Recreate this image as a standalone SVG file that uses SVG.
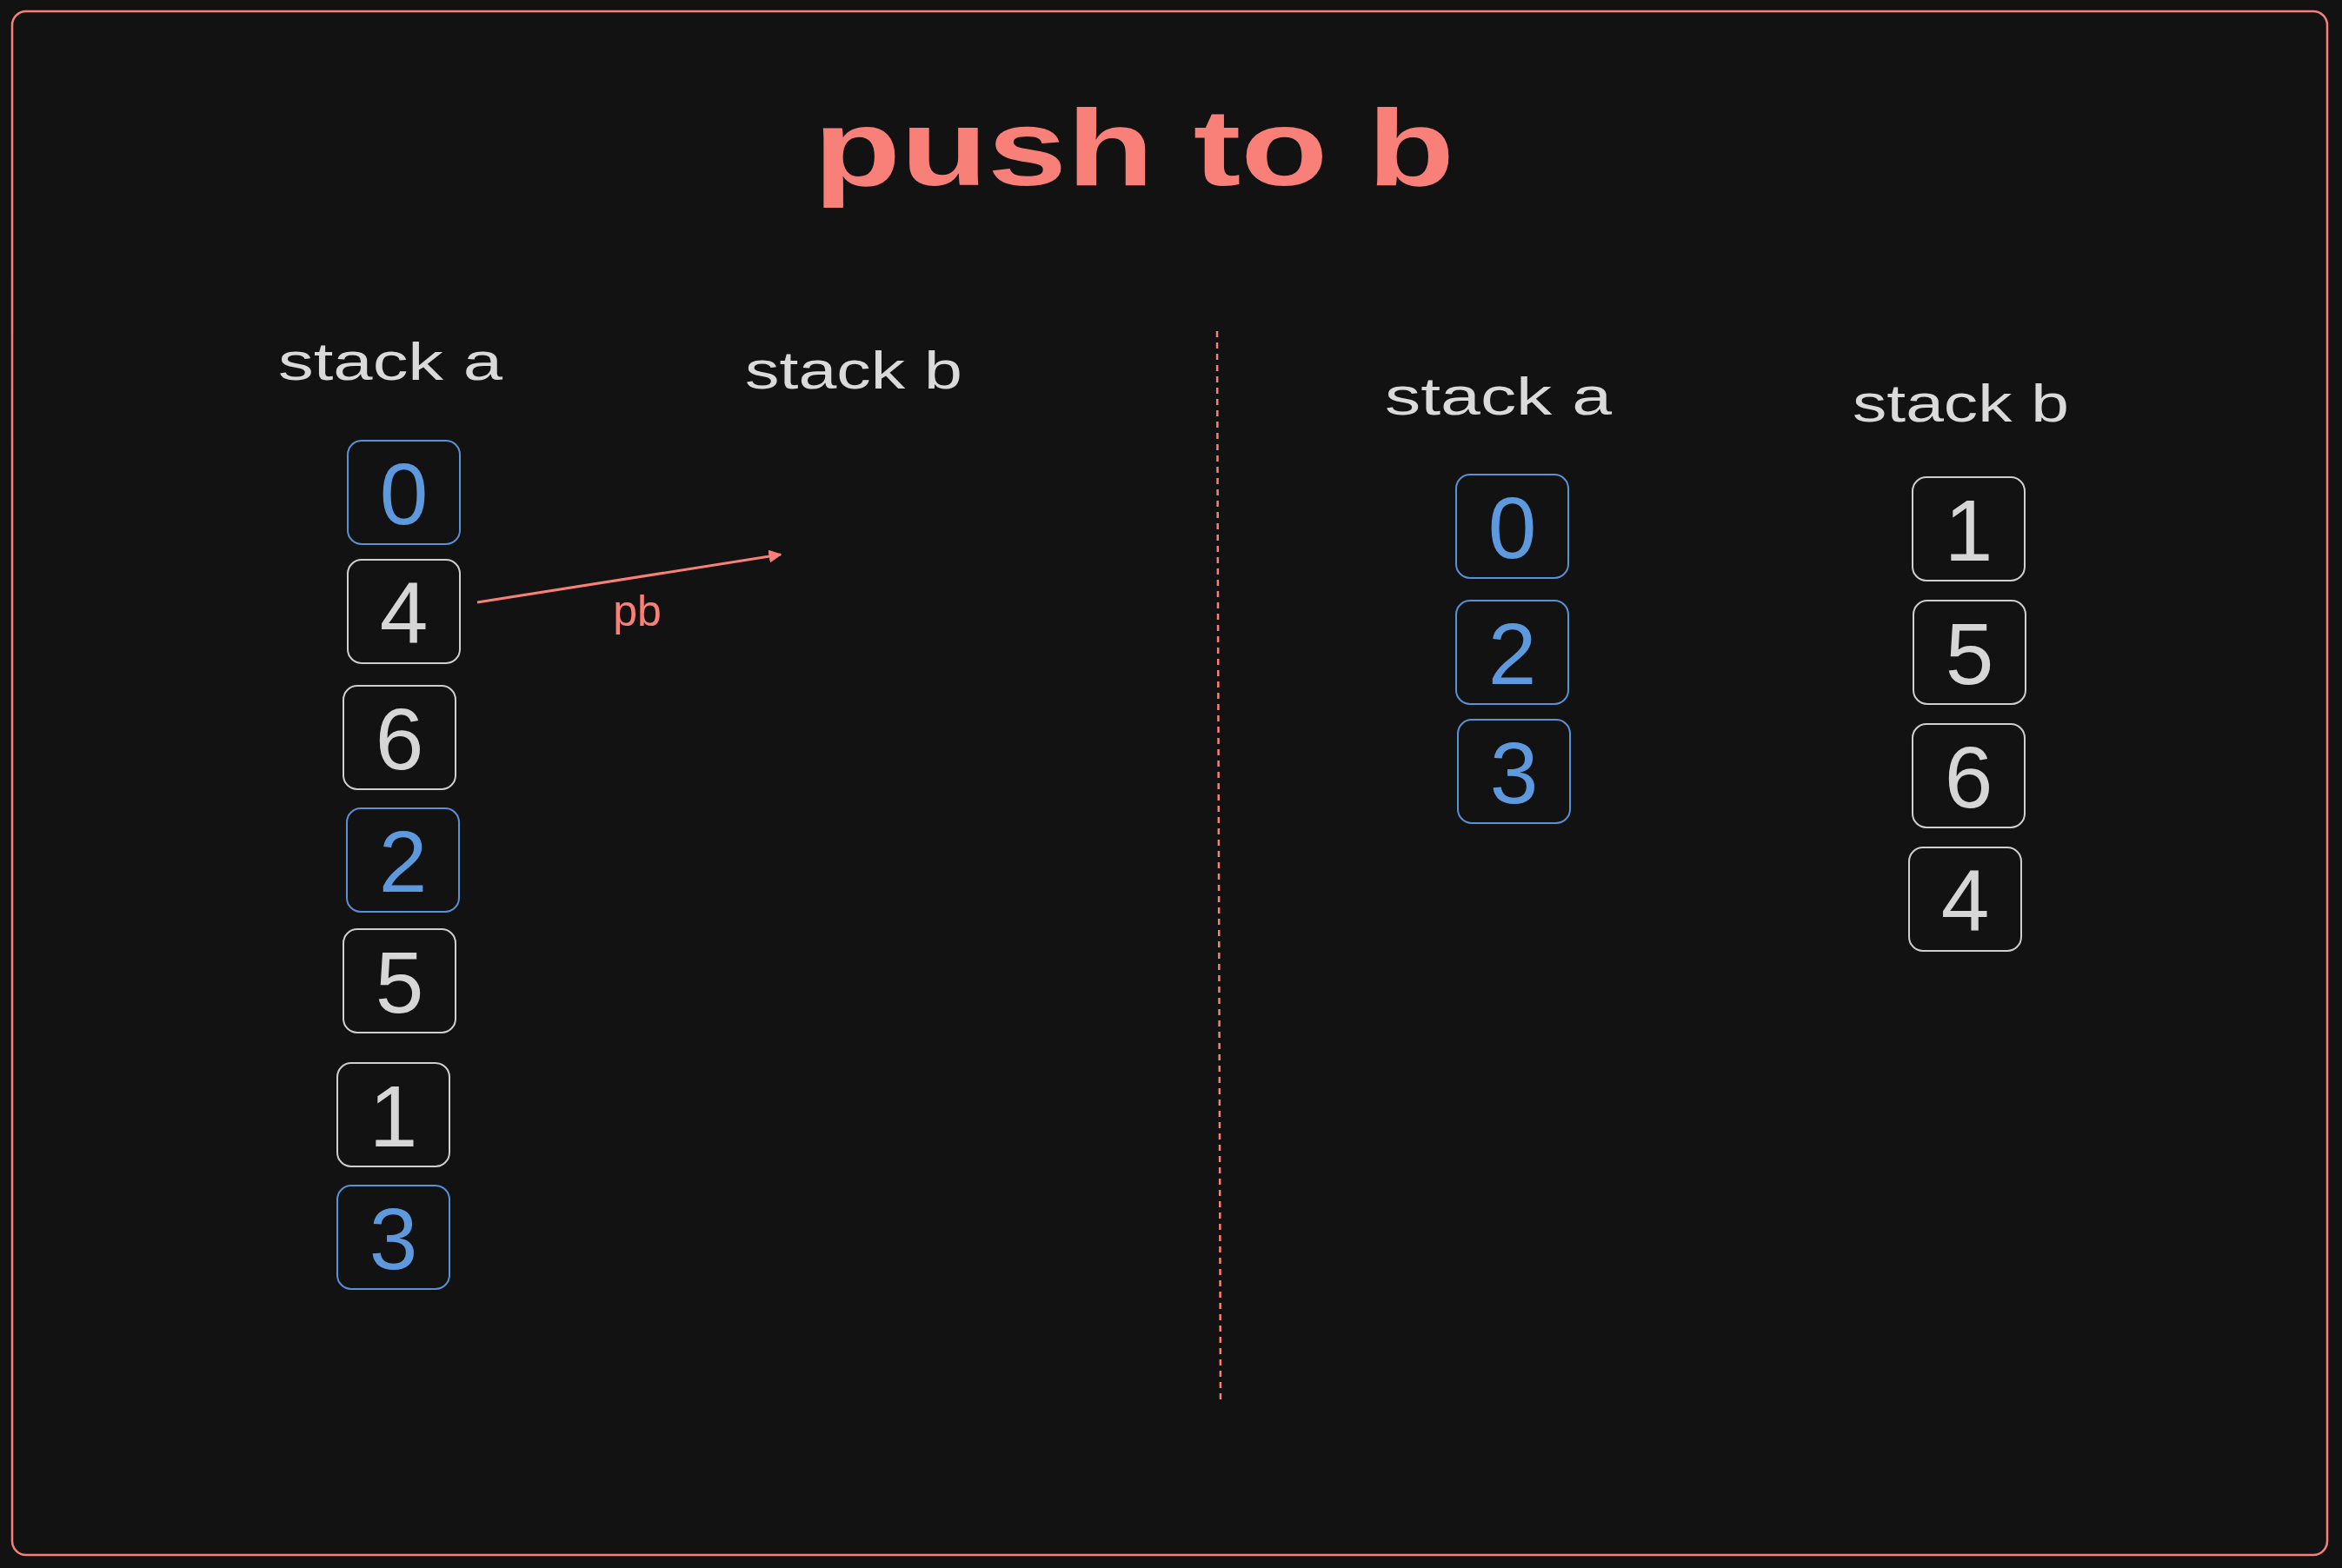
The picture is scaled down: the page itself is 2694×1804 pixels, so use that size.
<svg xmlns="http://www.w3.org/2000/svg" width="2694" height="1804" viewBox="0 0 2694 1804">
<style>
.bg{fill:#121212}
.frame{fill:none;stroke:#f98079;stroke-width:2.5}
.title{font-family:"Liberation Sans",Arial,sans-serif;font-size:124px;font-weight:700;fill:#f98079}
.lbl{font-family:"Liberation Sans",Arial,sans-serif;font-size:62px;fill:#dadada}
.box{fill:#121212;stroke-width:2;rx:16px;ry:16px}
.bw{stroke:#cfcfcf}
.bb{stroke:#5a90d4}
.num{font-family:"Liberation Sans",Arial,sans-serif;font-size:100px;text-anchor:middle}
.nw{fill:#d6d6d6}
.nb{fill:#5e98dd}
.conn{stroke:#f98079;stroke-width:3;fill:none}
.dash{stroke:#f98079;stroke-width:2.5;fill:none;stroke-dasharray:7 6}
.edgelbl{font-family:"Liberation Sans",Arial,sans-serif;font-size:50px;fill:#f98079;text-anchor:middle}
</style>
<defs>
<marker id="ah" viewBox="0 0 10 10" refX="9" refY="5" markerWidth="5" markerHeight="5" orient="auto" markerUnits="strokeWidth">
<path d="M0,0 L10,5 L0,10 z" fill="#f98079"/>
</marker>
</defs>
<rect class="bg" x="0" y="0" width="2694" height="1804"/>
<rect class="frame" x="14" y="13" width="2663" height="1776" rx="16" ry="16"/>
<text class="title" x="936" y="213" textLength="737" lengthAdjust="spacingAndGlyphs">push to b</text>

<g id="labels">
<text class="lbl" x="320" y="437" textLength="258" lengthAdjust="spacingAndGlyphs">stack a</text>
<text class="lbl" x="857" y="447" textLength="250" lengthAdjust="spacingAndGlyphs">stack b</text>
<text class="lbl" x="1593" y="477" textLength="261" lengthAdjust="spacingAndGlyphs">stack a</text>
<text class="lbl" x="2131" y="485" textLength="249" lengthAdjust="spacingAndGlyphs">stack b</text>
</g>

<g id="divider">
<path class="dash" d="M1400,381 L1404,1612"/>
</g>

<g id="left-a0"><rect class="box bb" x="400" y="507" width="129" height="119"/><text class="num nb" x="464.5" y="602.5">0</text></g>
<g id="left-a4"><rect class="box bw" x="400" y="644" width="129" height="119"/><text class="num nw" x="464.5" y="739.5">4</text></g>
<g id="left-a6"><rect class="box bw" x="395" y="789" width="129" height="119"/><text class="num nw" x="459.5" y="884.5">6</text></g>
<g id="left-a2"><rect class="box bb" x="399" y="930" width="129" height="119"/><text class="num nb" x="463.5" y="1025.5">2</text></g>
<g id="left-a5"><rect class="box bw" x="395" y="1069" width="129" height="119"/><text class="num nw" x="459.5" y="1164.5">5</text></g>
<g id="left-a1"><rect class="box bw" x="388" y="1223" width="129" height="119"/><text class="num nw" x="452.5" y="1318.5">1</text></g>
<g id="left-a3"><rect class="box bb" x="388" y="1364" width="129" height="119"/><text class="num nb" x="452.5" y="1459.5">3</text></g>

<g id="right-a0"><rect class="box bb" x="1675" y="546" width="129" height="119"/><text class="num nb" x="1739.5" y="641.5">0</text></g>
<g id="right-a2"><rect class="box bb" x="1675" y="691" width="129" height="119"/><text class="num nb" x="1739.5" y="786.5">2</text></g>
<g id="right-a3"><rect class="box bb" x="1677" y="828" width="129" height="119"/><text class="num nb" x="1741.5" y="923.5">3</text></g>

<g id="right-b1"><rect class="box bw" x="2200" y="549" width="129" height="119"/><text class="num nw" x="2264.5" y="644.5">1</text></g>
<g id="right-b5"><rect class="box bw" x="2201" y="691" width="129" height="119"/><text class="num nw" x="2265.5" y="786.5">5</text></g>
<g id="right-b6"><rect class="box bw" x="2200" y="833" width="129" height="119"/><text class="num nw" x="2264.5" y="928.5">6</text></g>
<g id="right-b4"><rect class="box bw" x="2196" y="975" width="129" height="119"/><text class="num nw" x="2260.5" y="1070.5">4</text></g>

<g id="connectors">
<path class="conn" d="M549,693 L898,638" marker-end="url(#ah)"/>
<text class="edgelbl" x="733" y="720">pb</text>
</g>
</svg>
